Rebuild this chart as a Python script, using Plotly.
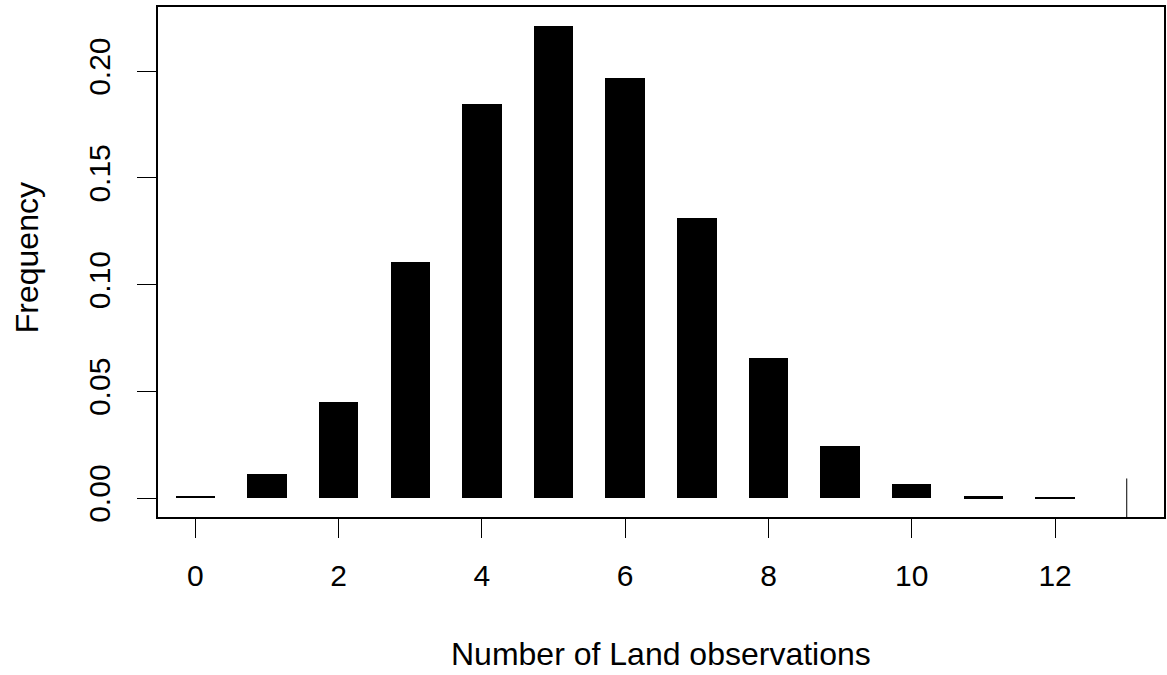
import plotly.graph_objects as go

counts = list(range(0, 13))
freq = [0.0011, 0.0112, 0.0452, 0.1105, 0.1844, 0.2212, 0.1966,
        0.1311, 0.0655, 0.0242, 0.0064, 0.0009, 0.0002]
observed_x = 13
observed_h = 0.0092

x_ticks = [0, 2, 4, 6, 8, 10, 12]
y_ticks = [0.00, 0.05, 0.10, 0.15, 0.20]
y_tick_text = ["0.00", "0.05", "0.10", "0.15", "0.20"]

ymax = max(freq)
ypad = 0.04 * ymax
yrange = [-ypad, ymax + ypad]
xrange = [-0.52, 13.52]

fig = go.Figure()
fig.add_trace(go.Bar(x=counts, y=freq, width=0.55,
                     marker=dict(color="black", line=dict(width=0)),
                     showlegend=False))
fig.add_trace(go.Scatter(x=[observed_x, observed_x], y=[yrange[0], observed_h],
                         mode="lines", line=dict(color="black", width=1),
                         showlegend=False))

L, R, T, B = 158, 1, 7, 158
W, H = 1167, 675
font = "Liberation Sans, Arial, sans-serif"
fig.update_layout(
    width=W, height=H,
    margin=dict(l=L, r=R, t=T, b=B),
    paper_bgcolor="white", plot_bgcolor="white",
    font=dict(family=font, size=30, color="black"),
    bargap=0,
    xaxis=dict(range=xrange, tickvals=x_ticks, ticks="outside", ticklen=19,
               tickwidth=1.3, tickcolor="black", showline=True, linecolor="black",
               linewidth=1.5, mirror=True, showgrid=False, zeroline=False,
               ticklabelstandoff=12, tickfont=dict(size=30)),
    yaxis=dict(range=yrange, tickvals=y_ticks, ticktext=y_tick_text, tickangle=-90,
               ticks="outside", ticklen=19, tickwidth=1.3, tickcolor="black",
               showline=True, linecolor="black", linewidth=1.5, mirror=True,
               showgrid=False, zeroline=False, ticklabelstandoff=15,
               tickfont=dict(size=30)),
)
plot_h = H - T - B
plot_w = W - L - R
fig.add_annotation(text="Number of Land observations", xref="x",
                   x=0.5 * (xrange[0] + xrange[1]), yref="paper",
                   y=-(654 - (H - B)) / plot_h, showarrow=False,
                   font=dict(size=32), xanchor="center", yanchor="middle")
fig.add_annotation(text="Frequency", xref="paper", x=-(L - 27) / plot_w,
                   yref="paper", y=((H - B) - 258) / plot_h, showarrow=False,
                   textangle=-90, font=dict(size=32), xanchor="center",
                   yanchor="middle")

fig.write_html("out.html", config={"displayModeBar": False},
               post_script="document.body.style.margin='0';")
